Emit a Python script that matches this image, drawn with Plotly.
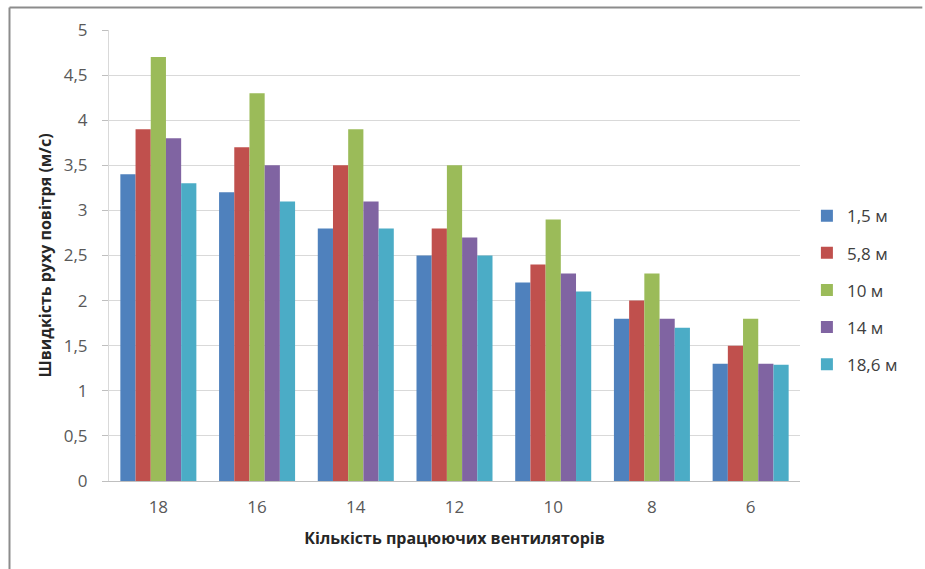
import plotly.graph_objects as go

categories = ["18", "16", "14", "12", "10", "8", "6"]
series_names = ["1,5 м", "5,8 м", "10 м", "14 м", "18,6 м"]
s_1_5 = [3.4, 3.2, 2.8, 2.5, 2.2, 1.8, 1.3]
s_5_8 = [3.9, 3.7, 3.5, 2.8, 2.4, 2.0, 1.5]
s_10 = [4.7, 4.3, 3.9, 3.5, 2.9, 2.3, 1.8]
s_14 = [3.8, 3.5, 3.1, 2.7, 2.3, 1.8, 1.3]
s_18_6 = [3.3, 3.1, 2.8, 2.5, 2.1, 1.7, 1.29]
series_values = [s_1_5, s_5_8, s_10, s_14, s_18_6]
colors = ["#4F81BD", "#C0504D", "#9BBB59", "#8064A2", "#4BACC6"]
y_tickvals = [0, 0.5, 1, 1.5, 2, 2.5, 3, 3.5, 4, 4.5, 5]
y_ticktext = ["0", "0,5", "1", "1,5", "2", "2,5", "3", "3,5", "4", "4,5", "5"]

FONT = "Open Sans"
fig = go.Figure()
for i, (name, vals) in enumerate(zip(series_names, series_values)):
    fig.add_trace(go.Bar(
        x=categories, y=vals, name=name, marker_color=colors[i],
        marker_line_width=0, legendgroup="g%d" % i,
    ))

fig.update_layout(
    width=925, height=569,
    margin=dict(l=109, r=125, t=30, b=88, autoexpand=False),
    paper_bgcolor="white", plot_bgcolor="white",
    barmode="group", bargap=0.23, bargroupgap=0,
    font=dict(family=FONT, color="#595959", size=17),
    showlegend=True,
    legend=dict(x=1.01, y=0.627, xanchor="left", yanchor="top",
                font=dict(family=FONT, size=17, color="#404040"),
                tracegroupgap=12, itemwidth=30,
                bgcolor="rgba(0,0,0,0)"),
    xaxis=dict(
        type="category", showgrid=False,
        showline=True, linecolor="#BFBFBF", linewidth=1,
        ticks="", ticklabelstandoff=11,
        tickfont=dict(size=17, color="#595959"),
        title=dict(text="<b>Кількість працюючих вентиляторів</b>",
                   font=dict(family=FONT, size=16, color="#262626"), standoff=15),
    ),
    yaxis=dict(
        range=[0, 5], tickvals=y_tickvals, ticktext=y_ticktext,
        showgrid=True, gridcolor="#D9D9D9", gridwidth=1,
        showline=True, linecolor="#D9D9D9", linewidth=1,
        ticks="outside", ticklen=6, tickcolor="#BFBFBF",
        ticklabelstandoff=11,
        tickfont=dict(size=17, color="#595959"),
        zeroline=False,
        title=dict(text="<b>Швидкість руху повітря (м/с)</b>",
                   font=dict(family=FONT, size=16, color="#262626"), standoff=8),
    ),
)

# outer frame (top and left edges visible in the reference)
fig.add_shape(type="line", xref="paper", yref="paper",
              x0=-0.144, x1=1.177, y0=1.05, y1=1.05,
              line=dict(color="#8C8C8C", width=2))
fig.add_shape(type="line", xref="paper", yref="paper",
              x0=-0.144, x1=-0.144, y0=1.05, y1=-0.2,
              line=dict(color="#8C8C8C", width=2))

fig.write_html("out.html")
